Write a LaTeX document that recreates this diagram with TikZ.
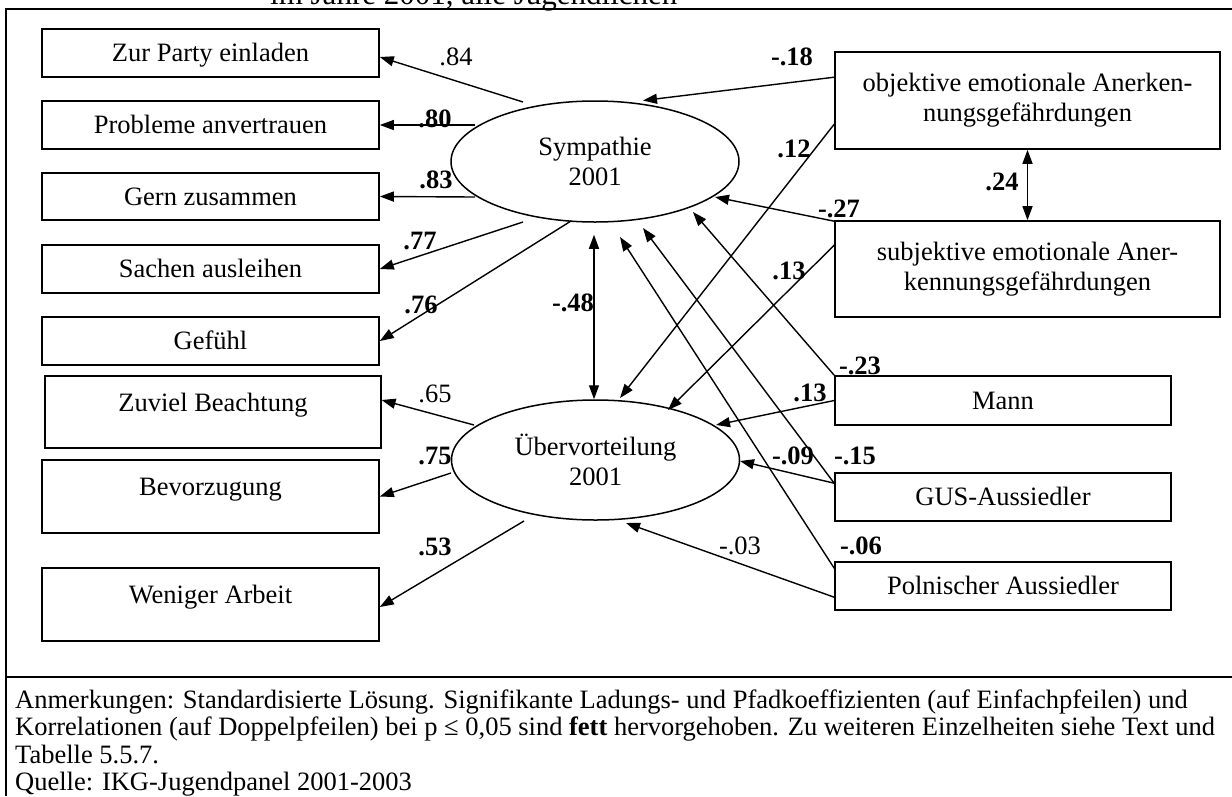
\documentclass[tikz,border=0pt]{standalone}
\usepackage{fontspec}
\setmainfont{Liberation Serif}
\usetikzlibrary{arrows.meta,shapes.geometric,calc}
\begin{document}
\begin{tikzpicture}[x=1pt,y=-1pt,
  every node/.style={font=\fontsize{26.5}{30}\selectfont},
  box/.style={draw, line width=1.6pt, inner sep=0pt, align=center},
  lbox/.style={box, minimum width=337pt, minimum height=48pt, text height=20pt, text depth=2.5pt},
  tallbox/.style={box, minimum width=337pt, minimum height=73pt, text height=18pt, text depth=20pt},
  rbox/.style={box, minimum width=336pt, minimum height=48pt, text height=20pt, text depth=2.5pt},
  widebox/.style={box, minimum width=385pt, minimum height=97pt},
  latent/.style={draw, ellipse, line width=1.5pt, minimum width=288pt, minimum height=120pt, inner sep=0pt, align=center},
  arr/.style={line width=1.4pt, -{Triangle[length=14pt,width=10pt]}},
  darr/.style={line width=1.4pt, {Triangle[length=14pt,width=10pt]}-{Triangle[length=14pt,width=10pt]}},
  coef/.style={font=\fontsize{26.5}{30}\selectfont\bfseries, inner sep=0pt, text height=17.5pt, text depth=0pt},
  coefns/.style={coef, font=\fontsize{26.5}{30}\selectfont},
  note/.style={anchor=base west, inner sep=0pt},
]
\useasboundingbox (0,0) rectangle (1232,796);
\fill[white] (0,0) rectangle (1232,796);

% caption line above the frame
\node[anchor=base west, inner sep=0pt, font=\fontsize{31}{36}\selectfont] (title) at (270,4) {im Jahre 2001, alle Jugendlichen};

% table frame
\draw[line width=2.5pt] (5,9) -- (1232,9);
\draw[line width=1.5pt] (6,8) -- (6,796);
\draw[line width=2.5pt] (5,677) -- (1232,677);

% indicators
\node[lbox] (party) at (210.5,53) {Zur Party einladen};
\node[lbox] (probl) at (210.5,125) {Probleme anvertrauen};
\node[lbox, minimum height=47pt] (gern) at (210.5,196.5) {Gern zusammen};
\node[lbox] (sach) at (210.5,269) {Sachen ausleihen};
\node[lbox] (gef) at (210.5,341) {Gefühl};
\node[tallbox, minimum width=335.5pt, minimum height=72pt] (zuv) at (213,412) {Zuviel Beachtung};
\node[tallbox] (bev) at (210.5,496.5) {Bevorzugung};
\node[tallbox] (wen) at (210.5,604.5) {Weniger Arbeit};

% latent factors
\node[latent, minimum height=121pt] (sym) at (595,161.5) {Sympathie\\2001};
\node[latent] (ub) at (595.5,460) {Übervorteilung\\2001};

% predictors
\node[widebox] (obj) at (1027.5,100.5) {objektive emotionale Anerken-\\nungsgefährdungen};
\node[widebox, minimum height=96pt] (subj) at (1027.5,269) {subjektive emotionale Aner-\\kennungsgefährdungen};
\node[rbox, minimum height=49pt] (mann) at (1003,400.5) {Mann};
\node[rbox] (gus) at (1003,497) {GUS-Aussiedler};
\node[rbox] (poln) at (1003,586) {Polnischer Aussiedler};

% loadings
\draw[arr] ($(sym.center)+(-72,-59.5)$) -- ($(party.east)+(0,4)$);
\draw[arr] ($(sym.center)+(-120,-36.5)$) -- (probl.east);
\draw[arr] ($(sym.center)+(-120,35.5)$) -- (gern.east);
\draw[arr] ($(sym.center)+(-72,60.5)$) -- (sach.east);
\draw[arr] ($(sym.center)+(-24,59.5)$) -- (gef.east);
\draw[arr] ($(ub.center)+(-121.5,-35)$) -- ($(zuv.east)+(0,-12)$);
\draw[arr] ($(ub.center)+(-144.5,13)$) -- (bev.east);
\draw[arr] ($(ub.center)+(-71.5,61)$) -- ($(wen.east)+(0,2.5)$);

% correlations
\draw[darr] ($(sym.south)+(-1,12)$) -- ($(ub.north)+(-1.5,0)$);
\draw[darr] (obj.south) -- (subj.north);

% structural paths
\draw[arr] ($(obj.north west)+(0,26)$) -- ($(sym.center)+(48,-61)$);
\draw[arr] ($(obj.north west)+(0,73)$) -- ($(ub.center)+(24.5,-62)$);
\draw[arr] ($(subj.north west)+(0,1)$) -- ($(sym.center)+(120,35.5)$);
\draw[arr] ($(subj.north west)+(0,25)$) -- ($(ub.center)+(72.5,-50)$);
\draw[arr] (mann.north west) -- ($(sym.center)+(98,50.5)$);
\draw[arr] (mann.west) -- ($(ub.center)+(120.5,-35)$);
\draw[arr] ($(gus.north west)+(0,11)$) -- ($(sym.center)+(48,66.5)$);
\draw[arr] ($(gus.north west)+(0,11)$) -- ($(ub.center)+(144.5,1)$);
\draw[arr] ($(poln.north west)+(0,7)$) -- ($(sym.center)+(25,75.5)$);
\draw[arr] ($(poln.north west)+(0,36)$) -- ($(ub.center)+(30.5,63)$);

% coefficients
\node[coefns] (c84) at (456,57) {.84};
\node[coef] (c80) at (435,119) {.80};
\node[coef] (c83) at (436,180) {.83};
\node[coef] (c77) at (420,241) {.77};
\node[coef] (c76) at (421,305) {.76};
\node[coefns] (c65) at (435,394) {.65};
\node[coef] (c75) at (435,456) {.75};
\node[coef] (c53) at (435,547) {.53};
\node[coef] (c48) at (573,303) {-.48};
\node[coef] (c18) at (792,57) {-.18};
\node[coef] (c12) at (794,149) {.12};
\node[coef] (c24) at (1002,182) {.24};
\node[coef] (c27) at (839,209) {-.27};
\node[coef] (c13a) at (789,271) {.13};
\node[coef] (c23) at (860,366) {-.23};
\node[coef] (c13b) at (810,393) {.13};
\node[coef] (c15) at (855,456) {-.15};
\node[coef] (c09) at (793,456) {-.09};
\node[coef] (c06) at (861,546) {-.06};
\node[coefns] (c03) at (740,546) {-.03};

% notes below the frame
\node[note] (n1) at (15,708) {Anmerkungen: Standardisierte Lösung. Signifikante Ladungs- und Pfadkoeffizienten (auf Einfachpfeilen) und};
\node[note] (n2) at (15,735.5) {Korrelationen (auf Doppelpfeilen) bei p ≤ 0,05 sind \textbf{fett} hervorgehoben. Zu weiteren Einzelheiten siehe Text und};
\node[note] (n3) at (15,763) {Tabelle 5.5.7.};
\node[note] (n4) at (15,790.5) {Quelle: IKG-Jugendpanel 2001-2003};
\end{tikzpicture}
\end{document}
